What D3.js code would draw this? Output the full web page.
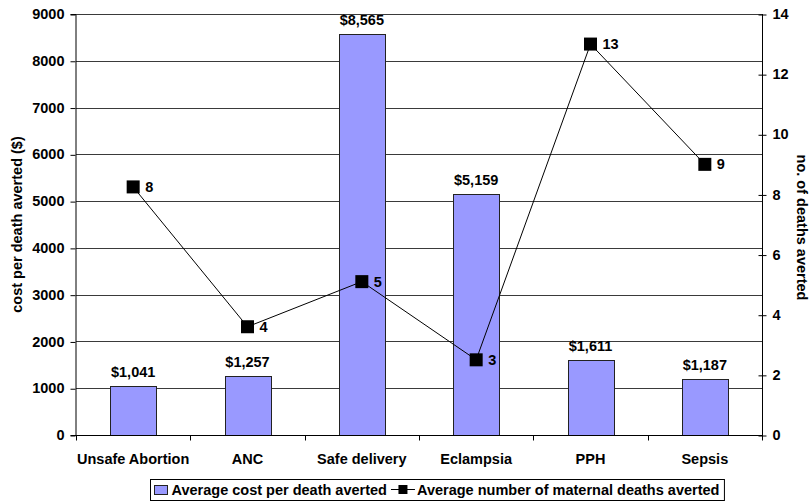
<!DOCTYPE html>
<html>
<head>
<meta charset="utf-8">
<script src="https://cdn.jsdelivr.net/npm/d3@7"></script>
<style>
  body { margin: 0; background: #fff; }
  text { font-family: "Liberation Sans", Arial, sans-serif; font-weight: bold; fill: #000; }
</style>
</head>
<body>
<svg id="chart"></svg>
<script>
const categories = ["Unsafe Abortion", "ANC", "Safe delivery", "Eclampsia", "PPH", "Sepsis"];
const costPerDeath = [1041, 1257, 8565, 5159, 1611, 1187];
const deathsAverted = [8.25, 3.6, 5.1, 2.5, 13.0, 9.0];
const leftTicks = [0, 1000, 2000, 3000, 4000, 5000, 6000, 7000, 8000, 9000];
const rightTicks = [0, 2, 4, 6, 8, 10, 12, 14];

const width = 810, height = 504;
const margin = { top: 14, right: 48, bottom: 69, left: 76 };
const fs = "14.5px";

const svg = d3.select("#chart").attr("width", width).attr("height", height);

const x = d3.scaleBand()
  .domain(categories)
  .range([margin.left, width - margin.right])
  .paddingInner(0.6)
  .paddingOuter(0.3);

const yLeft = d3.scaleLinear().domain([0, 9000]).range([height - margin.bottom, margin.top]);
const yRight = d3.scaleLinear().domain([0, 14]).range([height - margin.bottom, margin.top]);

const x0 = margin.left, x1 = width - margin.right;
const crisp = v => Math.round(v) + 0.5;

// gridlines
svg.append("g")
  .selectAll("line")
  .data(leftTicks.slice(1))
  .join("line")
  .attr("x1", x0).attr("x2", x1)
  .attr("y1", d => crisp(yLeft(d))).attr("y2", d => crisp(yLeft(d)))
  .attr("stroke", "#3a3a3a");

// bars
svg.append("g")
  .selectAll("rect")
  .data(costPerDeath)
  .join("rect")
  .attr("x", (d, i) => Math.round(x(categories[i])) + 0.5)
  .attr("y", d => Math.round(yLeft(d)) + 0.5)
  .attr("width", Math.round(x.bandwidth()))
  .attr("height", d => Math.round(yLeft(0)) - Math.round(yLeft(d)))
  .attr("fill", "#9999ff")
  .attr("stroke", "#222");

// bar labels
const fmt = d3.format(",");
svg.append("g")
  .selectAll("text")
  .data(costPerDeath)
  .join("text")
  .attr("x", (d, i) => x(categories[i]) + x.bandwidth() / 2)
  .attr("y", d => yLeft(d) - 9)
  .attr("text-anchor", "middle")
  .style("font-size", fs)
  .text(d => "$" + fmt(d));

// left axis
const leftAxis = svg.append("g")
  .attr("transform", `translate(${crisp(x0) - 1},0)`)
  .call(d3.axisLeft(yLeft).tickValues(leftTicks).tickFormat(d3.format("d")).tickSize(5).tickPadding(6));
leftAxis.selectAll("text").style("font-size", fs);
leftAxis.selectAll("path, line").attr("stroke", "#000");
leftAxis.selectAll(".tick line").attr("transform", "translate(0,0.5)");

// right axis
const rightAxis = svg.append("g")
  .attr("transform", `translate(${crisp(x1)},0)`)
  .call(d3.axisRight(yRight).tickValues(rightTicks).tickSize(4).tickPadding(6));
rightAxis.selectAll(".tick line").attr("x1", -4).attr("stroke", "#000").attr("transform", "translate(0,0.5)");
rightAxis.selectAll("path").attr("stroke", "#000");
rightAxis.selectAll("text").style("font-size", fs);
rightAxis.select(".domain").attr("d", `M0,${yRight(14)}V${yRight(0) + 5}`);

// bottom axis with ticks between categories
const baseY = crisp(yLeft(0));
svg.append("line")
  .attr("x1", x0).attr("x2", x1)
  .attr("y1", baseY).attr("y2", baseY)
  .attr("stroke", "#000");
const step = x.step();
svg.append("g")
  .selectAll("line")
  .data(d3.range(categories.length + 1))
  .join("line")
  .attr("x1", i => crisp(x0 + i * step)).attr("x2", i => crisp(x0 + i * step))
  .attr("y1", baseY).attr("y2", baseY + 5)
  .attr("stroke", "#000");
svg.append("g")
  .selectAll("text")
  .data(categories)
  .join("text")
  .attr("x", d => x(d) + x.bandwidth() / 2)
  .attr("y", baseY + 28)
  .attr("text-anchor", "middle")
  .style("font-size", fs)
  .text(d => d);

// line series
const cx = i => x(categories[i]) + x.bandwidth() / 2;
svg.append("path")
  .datum(deathsAverted)
  .attr("d", d3.line().x((d, i) => cx(i)).y(d => yRight(d)))
  .attr("fill", "none")
  .attr("stroke", "#000")
  .attr("stroke-width", 1);
svg.append("g")
  .selectAll("rect")
  .data(deathsAverted)
  .join("rect")
  .attr("x", (d, i) => cx(i) - 6.5)
  .attr("y", d => yRight(d) - 6.5)
  .attr("width", 13).attr("height", 13)
  .attr("fill", "#000");
svg.append("g")
  .selectAll("text")
  .data(deathsAverted)
  .join("text")
  .attr("x", (d, i) => cx(i) + 12)
  .attr("y", d => yRight(d) + 5)
  .style("font-size", fs)
  .text(d => Math.round(d));

// axis titles
svg.append("text")
  .attr("transform", `translate(22,${(margin.top + height - margin.bottom) / 2}) rotate(-90)`)
  .attr("text-anchor", "middle")
  .style("font-size", fs)
  .text("cost per death averted ($)");
svg.append("text")
  .attr("transform", `translate(797,${(margin.top + height - margin.bottom) / 2 + 3}) rotate(90)`)
  .attr("text-anchor", "middle")
  .style("font-size", fs)
  .text("no. of deaths averted");

// legend
const lg = svg.append("g").attr("transform", "translate(150.5,479.5)");
const box = lg.append("rect").attr("height", 21).attr("fill", "#fff").attr("stroke", "#000");
lg.append("rect").attr("x", 4).attr("y", 6).attr("width", 13).attr("height", 9)
  .attr("fill", "#9999ff").attr("stroke", "#222");
const t1 = lg.append("text").attr("x", 21).attr("y", 15.5).style("font-size", fs).text("Average cost per death averted");
const e1 = 21 + t1.node().getComputedTextLength();
lg.append("line").attr("x1", e1 + 4).attr("x2", e1 + 28).attr("y1", 10).attr("y2", 10).attr("stroke", "#000");
lg.append("rect").attr("x", e1 + 11.5).attr("y", 5.5).attr("width", 9).attr("height", 9).attr("fill", "#000");
const t2 = lg.append("text").attr("x", e1 + 30).attr("y", 15.5).style("font-size", fs).text("Average number of maternal deaths averted");
box.attr("width", e1 + 30 + t2.node().getComputedTextLength() + 5);
</script>
</body>
</html>
